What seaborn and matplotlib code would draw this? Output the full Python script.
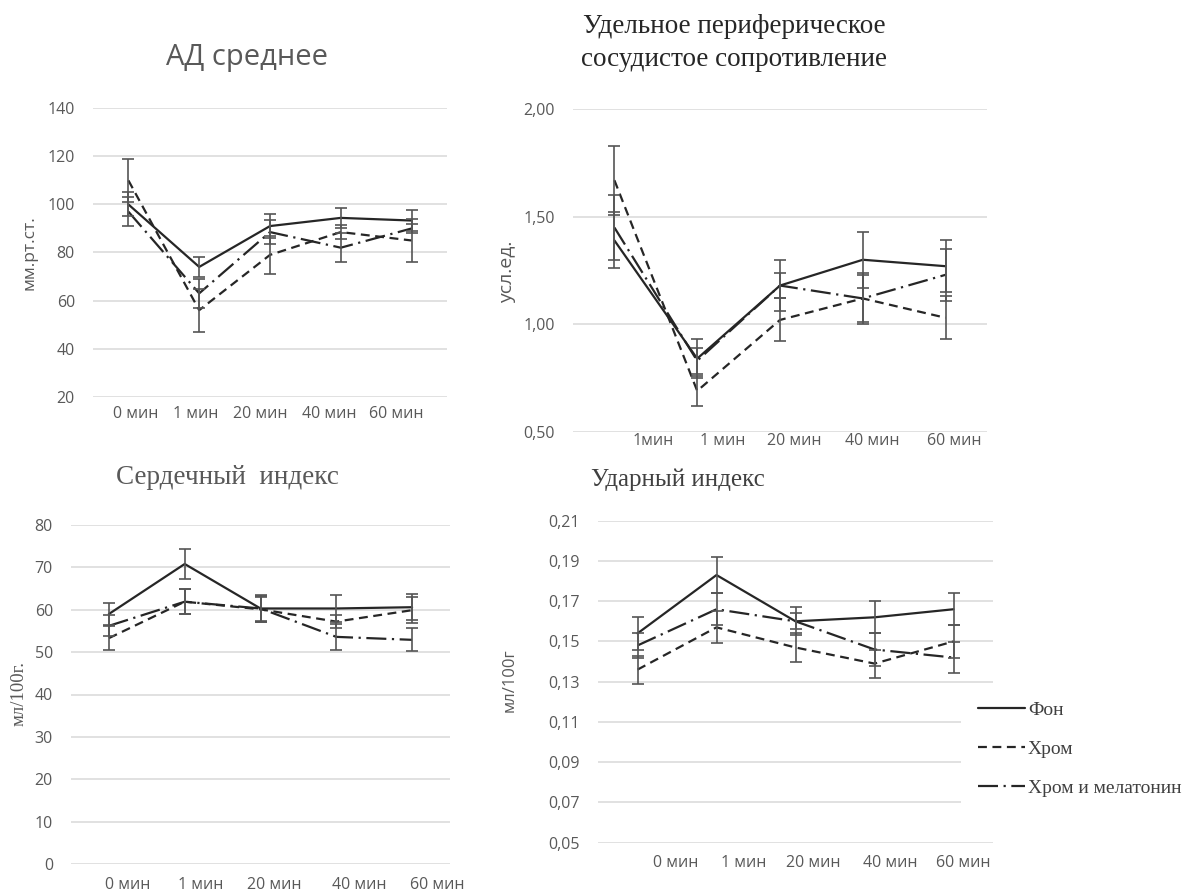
import pandas as pd
import matplotlib
matplotlib.use('Agg')
import matplotlib.pyplot as plt
import seaborn as sns

# ---- data ----
groups = ['Фон', 'Хром', 'Хром и мелатонин']
times = ['0 мин', '1 мин', '20 мин', '40 мин', '60 мин']
times_uppss = ['1мин', '1 мин', '20 мин', '40 мин', '60 мин']

ad_fon = [100, 74, 91, 94.4, 93.3]
ad_fon_err = [5, 4, 5, 4.2, 4.3]
ad_chrom = [110, 56, 79, 88.5, 85]
ad_chrom_err = [9, 9, 8, 3, 9]
ad_mel = [97, 63, 88.5, 82, 90]
ad_mel_err = [6, 6, 5, 6, 2]
ad_ticks = [20, 40, 60, 80, 100, 120, 140]

up_fon = [1.39, 0.84, 1.18, 1.30, 1.27]
up_fon_err = [0.13, 0.09, 0.12, 0.13, 0.12]
up_chrom = [1.67, 0.69, 1.02, 1.12, 1.03]
up_chrom_err = [0.16, 0.07, 0.10, 0.11, 0.10]
up_mel = [1.45, 0.83, 1.18, 1.12, 1.23]
up_mel_err = [0.15, 0.06, 0.06, 0.12, 0.12]
up_ticks = [0.5, 1.0, 1.5, 2.0]

si_fon = [59.0, 70.8, 60.3, 60.3, 60.6]
si_fon_err = [2.7, 3.6, 3.2, 3.2, 3.0]
si_chrom = [53.3, 61.9, 60.1, 57.2, 59.9]
si_chrom_err = [2.8, 3.0, 3.0, 1.5, 3.0]
si_mel = [56.2, 61.9, 60.3, 53.6, 52.9]
si_mel_err = [2.5, 3.0, 3.0, 3.0, 2.7]
si_ticks = [0, 10, 20, 30, 40, 50, 60, 70, 80]

ui_fon = [0.154, 0.183, 0.160, 0.162, 0.166]
ui_fon_err = [0.008, 0.009, 0.007, 0.008, 0.008]
ui_chrom = [0.136, 0.157, 0.147, 0.139, 0.150]
ui_chrom_err = [0.007, 0.008, 0.007, 0.007, 0.008]
ui_mel = [0.148, 0.166, 0.160, 0.146, 0.142]
ui_mel_err = [0.006, 0.008, 0.004, 0.008, 0.0075]
ui_ticks = [0.05, 0.07, 0.09, 0.11, 0.13, 0.15, 0.17, 0.19, 0.21]

sns.set_theme(style='white')
plt.rcParams['font.family'] = ['Open Sans', 'DejaVu Sans']

SERIF = ['Liberation Serif', 'DejaVu Serif']
TICK_C = '#595959'
LINE_C = '#262626'
dashes = {'Фон': '', 'Хром': (4, 2.5), 'Хром и мелатонин': (9, 2.5, 1, 2.5)}

W, H = 1192, 893
fig = plt.figure(figsize=(W / 100, H / 100), dpi=100)


def px_axes(l, r, t, b):
    return fig.add_axes([l / W, 1 - b / H, (r - l) / W, (b - t) / H])


def panel(ax, vals, errs, ylim, yticks, yfmt, xlabels, xlab_pos, xpad):
    df = pd.DataFrame({
        'x': list(range(5)) * 3,
        'y': vals[0] + vals[1] + vals[2],
        'group': [g for g in groups for _ in range(5)],
    })
    sns.lineplot(data=df, x='x', y='y', style='group', style_order=groups,
                 dashes=dashes, color=LINE_C, linewidth=1.6, legend=False, ax=ax)
    for v, e in zip(vals, errs):
        ax.errorbar(range(5), v, yerr=e, fmt='none', ecolor='#555555',
                    elinewidth=1.2, capsize=4.5, capthick=1.2, zorder=3)
    ax.set_xlim(-0.5, 4.5)
    ax.set_ylim(*ylim)
    ax.set_yticks(yticks)
    ax.set_yticklabels([yfmt(t) for t in yticks])
    ax.set_xticks(xlab_pos)
    ax.set_xticklabels(xlabels)
    ax.grid(axis='y', color='#d9d9d9', linewidth=1.1)
    ax.grid(axis='x', visible=False)
    sns.despine(ax=ax, left=True, bottom=True)
    ax.tick_params(axis='y', length=0, pad=13, labelsize=11.5, labelcolor=TICK_C)
    ax.tick_params(axis='x', length=0, pad=xpad, labelsize=11.5, labelcolor=TICK_C)
    ax.set_xlabel('')
    ax.set_ylabel('')


# АД среднее
ax1 = px_axes(93, 447, 108.3, 396.7)
panel(ax1, [ad_fon, ad_chrom, ad_mel], [ad_fon_err, ad_chrom_err, ad_mel_err],
      (20, 140), ad_ticks, lambda t: f'{t}', times,
      [0.107, 0.955, 1.86, 2.83, 3.79], 7)
fig.text(247 / W, 1 - 58 / H, 'АД среднее', fontsize=21, color=TICK_C,
         ha='center', va='center')
fig.text(30 / W, 1 - 253 / H, 'мм.рт.ст.', fontsize=12.5, color=TICK_C,
         rotation=90, ha='center', va='center')

# Удельное периферическое сосудистое сопротивление
ax2 = px_axes(573, 987, 109.3, 431.7)
panel(ax2, [up_fon, up_chrom, up_mel], [up_fon_err, up_chrom_err, up_mel_err],
      (0.5, 2.0), up_ticks, lambda t: f'{t:.2f}'.replace('.', ','), times_uppss,
      [0.466, 1.306, 2.17, 3.12, 4.10], 1)
fig.text(734 / W, 1 - 43 / H, 'Удельное периферическое\nсосудистое сопротивление',
         fontsize=19.5, family=SERIF, color='#262626', ha='center', va='center',
         linespacing=1.45)
fig.text(507 / W, 1 - 272 / H, 'усл.ед.', fontsize=14, color=TICK_C,
         rotation=90, ha='center', va='center')

# Сердечный индекс
ax3 = px_axes(71, 450, 525, 864)
panel(ax3, [si_fon, si_chrom, si_mel], [si_fon_err, si_chrom_err, si_mel_err],
      (0, 80), si_ticks, lambda t: f'{t}', times,
      [0.245, 1.21, 2.18, 3.30, 4.33], 9.5)
fig.text(227 / W, 1 - 477 / H, 'Сердечный  индекс', fontsize=19.5, family=SERIF,
         color=TICK_C, ha='center', va='center')
fig.text(19 / W, 1 - 693 / H, 'мл/100г.', fontsize=13.5, family=SERIF, color=TICK_C,
         rotation=90, ha='center', va='center')

# Ударный индекс
ax4 = px_axes(598, 993, 520.7, 842.7)
panel(ax4, [ui_fon, ui_chrom, ui_mel], [ui_fon_err, ui_chrom_err, ui_mel_err],
      (0.05, 0.21), ui_ticks, lambda t: f'{t:.2f}'.replace('.', ','), times,
      [0.487, 1.35, 2.22, 3.196, 4.12], 9)
fig.text(678 / W, 1 - 480 / H, 'Ударный индекс', fontsize=18, family=SERIF,
         color='#404040', ha='center', va='center')
fig.text(510 / W, 1 - 680 / H, 'мл/100г', fontsize=12, color=TICK_C,
         rotation=90, ha='center', va='center')

handles = ax4.lines[:3]
leg = ax4.legend(handles, groups, loc='center left',
                 bbox_to_anchor=(951 / W, 1 - 749 / H), bbox_transform=fig.transFigure,
                 prop={'family': SERIF, 'size': 14}, frameon=True, facecolor='white',
                 edgecolor='none', framealpha=1, fancybox=False, borderpad=0.9,
                 handlelength=2.4, handletextpad=0.15, labelspacing=1.1)
for t in leg.get_texts():
    t.set_color('#404040')

fig.savefig('out.png', dpi=100)
